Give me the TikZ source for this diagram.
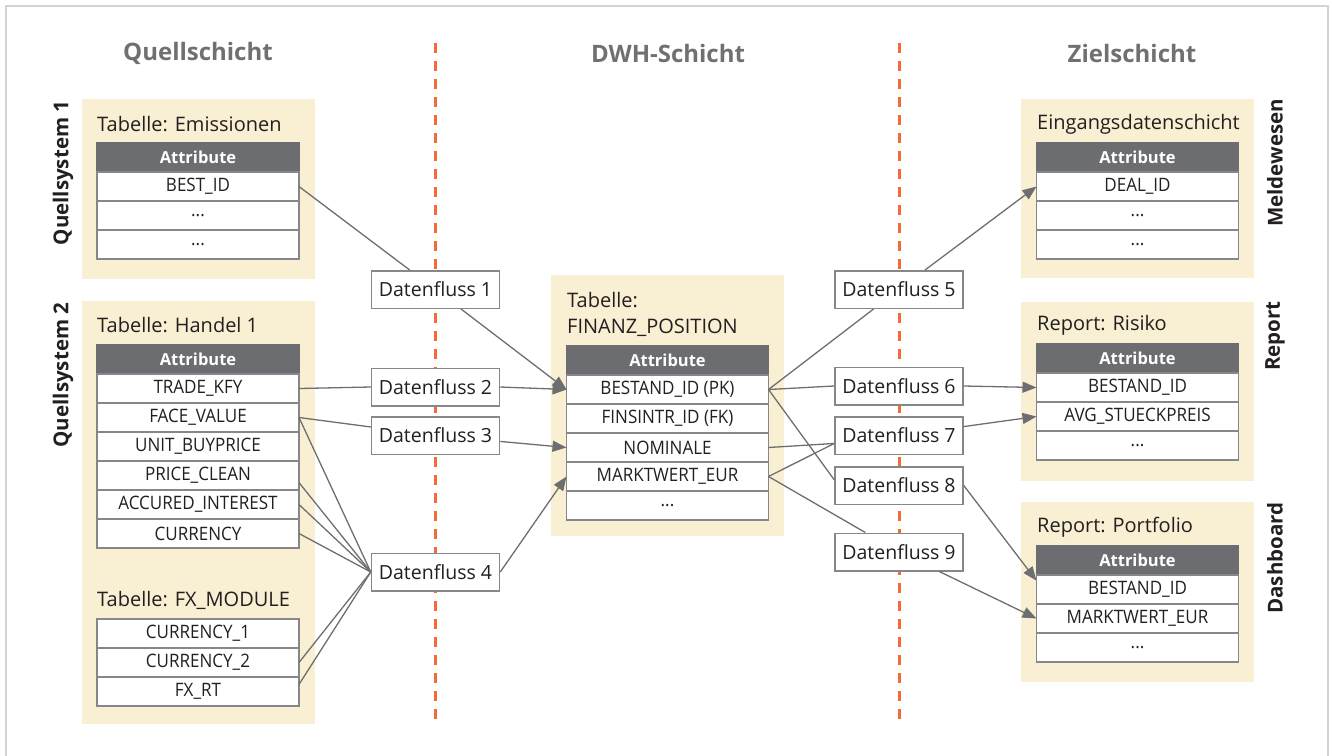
\documentclass[tikz,border=0pt]{standalone}
\usepackage{fontspec}
\setmainfont{Open Sans}
\newfontfamily\rowfont[FakeStretch=0.92]{Open Sans}
\usetikzlibrary{arrows.meta}
\usetikzlibrary{positioning}
\usepackage{xcolor}

\definecolor{beige}{RGB}{249,239,211}
\definecolor{headgray}{RGB}{108,109,113}
\definecolor{linegray}{RGB}{110,110,112}
\definecolor{rowgray}{RGB}{135,135,137}
\definecolor{titlegray}{RGB}{112,112,114}
\definecolor{dashorange}{RGB}{242,108,58}
\definecolor{framegray}{RGB}{212,212,212}
\definecolor{textdark}{RGB}{35,31,32}

\tikzset{
	tabhead/.style={draw=headgray, line width=1.5pt, fill=headgray, text=white, minimum width=202pt, minimum height=29pt, inner sep=0pt, outer sep=0pt, font=\fontsize{16.5}{18}\selectfont\bfseries},
	tabrow/.style={draw=rowgray, line width=1.5pt, fill=white, text=textdark, minimum width=202pt, minimum height=29pt, inner sep=0pt, outer sep=0pt, font=\rowfont\fontsize{18.5}{19}\selectfont},
	tabtitle/.style={anchor=west, inner sep=0pt, text=textdark, font=\fontsize{20}{26}\selectfont},
	fluss/.style={draw=rowgray, line width=1.5pt, fill=white, text=textdark, minimum width=128pt, minimum height=37.5pt, inner sep=0pt, font=\fontsize{19.5}{22}\selectfont},
	layer/.style={text=titlegray, font=\fontsize{24}{28}\selectfont\bfseries},
	sysname/.style={rotate=90, text=textdark, font=\fontsize{20.5}{24}\selectfont\bfseries},
	flow/.style={draw=linegray, line width=1.3pt},
	arr/.style={flow, -{Triangle[length=14pt, width=11pt]}},
	sepline/.style={draw=dashorange, line width=3pt, dash pattern=on 10pt off 8pt},
}

\begin{document}
\begin{tikzpicture}[x=1pt, y=-1pt]
		\useasboundingbox (0,0) rectangle (1332,755);
		\draw[framegray, line width=2pt] (6,760) -- (6,6) -- (1328,6) -- (1328,760);
		
		% Schichten
		\node[layer] (quell) at (198,53) {Quellschicht};
		\node[layer] (dwh) at (668,53) {DWH-Schicht};
		\node[layer] (ziel) at (1132,53) {Zielschicht};
		\draw[sepline] (435,43) -- (435,724);
		\draw[sepline] (899,43) -- (899,724);
		
		% Quellsystem 1
		\fill[beige] (82,99) rectangle (315,279);
		\node[sysname] (qs1) at (63,173) {Quellsystem 1};
		\node[tabtitle] (emtitle) at (97,124) {Tabelle: Emissionen};
		\node[tabhead] (emhead) at (198,157.5) {Attribute};
		\node[tabrow, below=0pt of emhead] (best) {BEST\_ID};
		\node[tabrow, below=0pt of best] (em2) {...};
		\node[tabrow, below=0pt of em2] (em3) {...};
		
		% Quellsystem 2
		\fill[beige] (82,301) rectangle (315,724);
		\node[sysname] (qs2) at (63,375) {Quellsystem 2};
		\node[tabtitle] (htitle) at (97,325) {Tabelle: Handel 1};
		\node[tabhead] (hhead) at (198,359.5) {Attribute};
		\node[tabrow, below=0pt of hhead] (tradekfy) {TRADE\_KFY};
		\node[tabrow, below=0pt of tradekfy] (facevalue) {FACE\_VALUE};
		\node[tabrow, below=0pt of facevalue] (unitbuy) {UNIT\_BUYPRICE};
		\node[tabrow, below=0pt of unitbuy] (priceclean) {PRICE\_CLEAN};
		\node[tabrow, below=0pt of priceclean] (accured) {ACCURED\_INTEREST};
		\node[tabrow, below=0pt of accured] (currency) {CURRENCY};
		\node[tabtitle] (fxtitle) at (97,600) {Tabelle: FX\_MODULE};
		\node[tabrow] (cur1) at (198,633.5) {CURRENCY\_1};
		\node[tabrow, below=0pt of cur1] (cur2) {CURRENCY\_2};
		\node[tabrow, below=0pt of cur2] (fxrt) {FX\_RT};
		
		% DWH
		\fill[beige] (551,275) rectangle (784,536);
		\node[tabtitle, align=left] (fptitle) at (567,314) {Tabelle:\\FINANZ\_POSITION};
		\node[tabhead] (fphead) at (667.5,360.5) {Attribute};
		\node[tabrow, below=0pt of fphead] (bestpk) {BESTAND\_ID (PK)};
		\node[tabrow, below=0pt of bestpk] (finsintr) {FINSINTR\_ID (FK)};
		\node[tabrow, below=0pt of finsintr] (nominale) {NOMINALE};
		\node[tabrow, below=0pt of nominale] (marktwert) {MARKTWERT\_EUR};
		\node[tabrow, below=0pt of marktwert] (fp5) {...};
		
		% Zielschicht
		\fill[beige] (1021,99) rectangle (1254,278);
		\node[sysname] (melde) at (1275,163) {Meldewesen};
		\node[tabtitle] (eingtitle) at (1037,124) {Eingangsdatenschicht};
		\node[tabhead] (einghead) at (1137.5,157.5) {Attribute};
		\node[tabrow, below=0pt of einghead] (dealid) {DEAL\_ID};
		\node[tabrow, below=0pt of dealid] (eing2) {...};
		\node[tabrow, below=0pt of eing2] (eing3) {...};
		
		\fill[beige] (1021,302) rectangle (1254,481);
		\node[sysname] (report) at (1275,336) {Report};
		\node[tabtitle] (risktitle) at (1037,325) {Report: Risiko};
		\node[tabhead] (riskhead) at (1137.5,358.5) {Attribute};
		\node[tabrow, below=0pt of riskhead] (rbest) {BESTAND\_ID};
		\node[tabrow, below=0pt of rbest] (ravg) {AVG\_STUECKPREIS};
		\node[tabrow, below=0pt of ravg] (risk3) {...};
		
		\fill[beige] (1021,502) rectangle (1254,682);
		\node[sysname] (dashb) at (1275,558) {Dashboard};
		\node[tabtitle] (porttitle) at (1037,527) {Report: Portfolio};
		\node[tabhead] (porthead) at (1137.5,560.5) {Attribute};
		\node[tabrow, below=0pt of porthead] (pbest) {BESTAND\_ID};
		\node[tabrow, below=0pt of pbest] (pmw) {MARKTWERT\_EUR};
		\node[tabrow, below=0pt of pmw] (port3) {...};
		
		% Datenfluesse
		\node[fluss] (df1) at (435.5,289.5) {Datenfluss 1};
		\node[fluss] (df2) at (435.5,387) {Datenfluss 2};
		\node[fluss] (df3) at (435.5,435.5) {Datenfluss 3};
		\node[fluss] (df4) at (435.5,572) {Datenfluss 4};
		\node[fluss] (df5) at (899,289.5) {Datenfluss 5};
		\node[fluss] (df6) at (899,386) {Datenfluss 6};
		\node[fluss] (df7) at (899,435.5) {Datenfluss 7};
		\node[fluss] (df8) at (899,485.5) {Datenfluss 8};
		\node[fluss] (df9) at (899,552) {Datenfluss 9};
		
		% Quelle -> DWH
		\draw[flow] (best.east) -- (df1);
		\draw[arr] (df1) -- (bestpk.west);
		\draw[flow] (tradekfy.east) -- (df2.west);
		\draw[arr] (df2.east) -- (bestpk.west);
		\draw[flow] (facevalue.east) -- (df3);
		\draw[arr] (df3) -- (nominale.west);
		\draw[flow] (facevalue.east) -- (df4.west);
		\draw[flow] (priceclean.-4) -- (df4.west);
		\draw[flow] (accured.east) -- (df4.west);
		\draw[flow] (currency.east) -- (df4.west);
		\draw[flow] (cur2.east) -- (df4.west);
		\draw[flow] (fxrt.4) -- (df4.west);
		\draw[arr] (df4.east) -- (marktwert.west);
		
		% DWH -> Ziel
		\draw[flow] (bestpk.east) -- (df5);
		\draw[arr] (df5) -- (dealid.west);
		\draw[flow] (bestpk.east) -- (df6.west);
		\draw[arr] (df6.east) -- (rbest.west);
		\draw[flow] (bestpk.east) -- (df8.175);
		\draw[flow] (nominale.east) -- (df7.187);
		\draw[flow] (marktwert.east) -- (df7.187);
		\draw[arr] (df7) -- (ravg.west);
		\draw[flow] (marktwert.east) -- (df9);
		\draw[arr] (df8.east) -- (pbest.175);
		\draw[arr] (df9) -- (pmw.west);
	\end{tikzpicture}
\end{document}
